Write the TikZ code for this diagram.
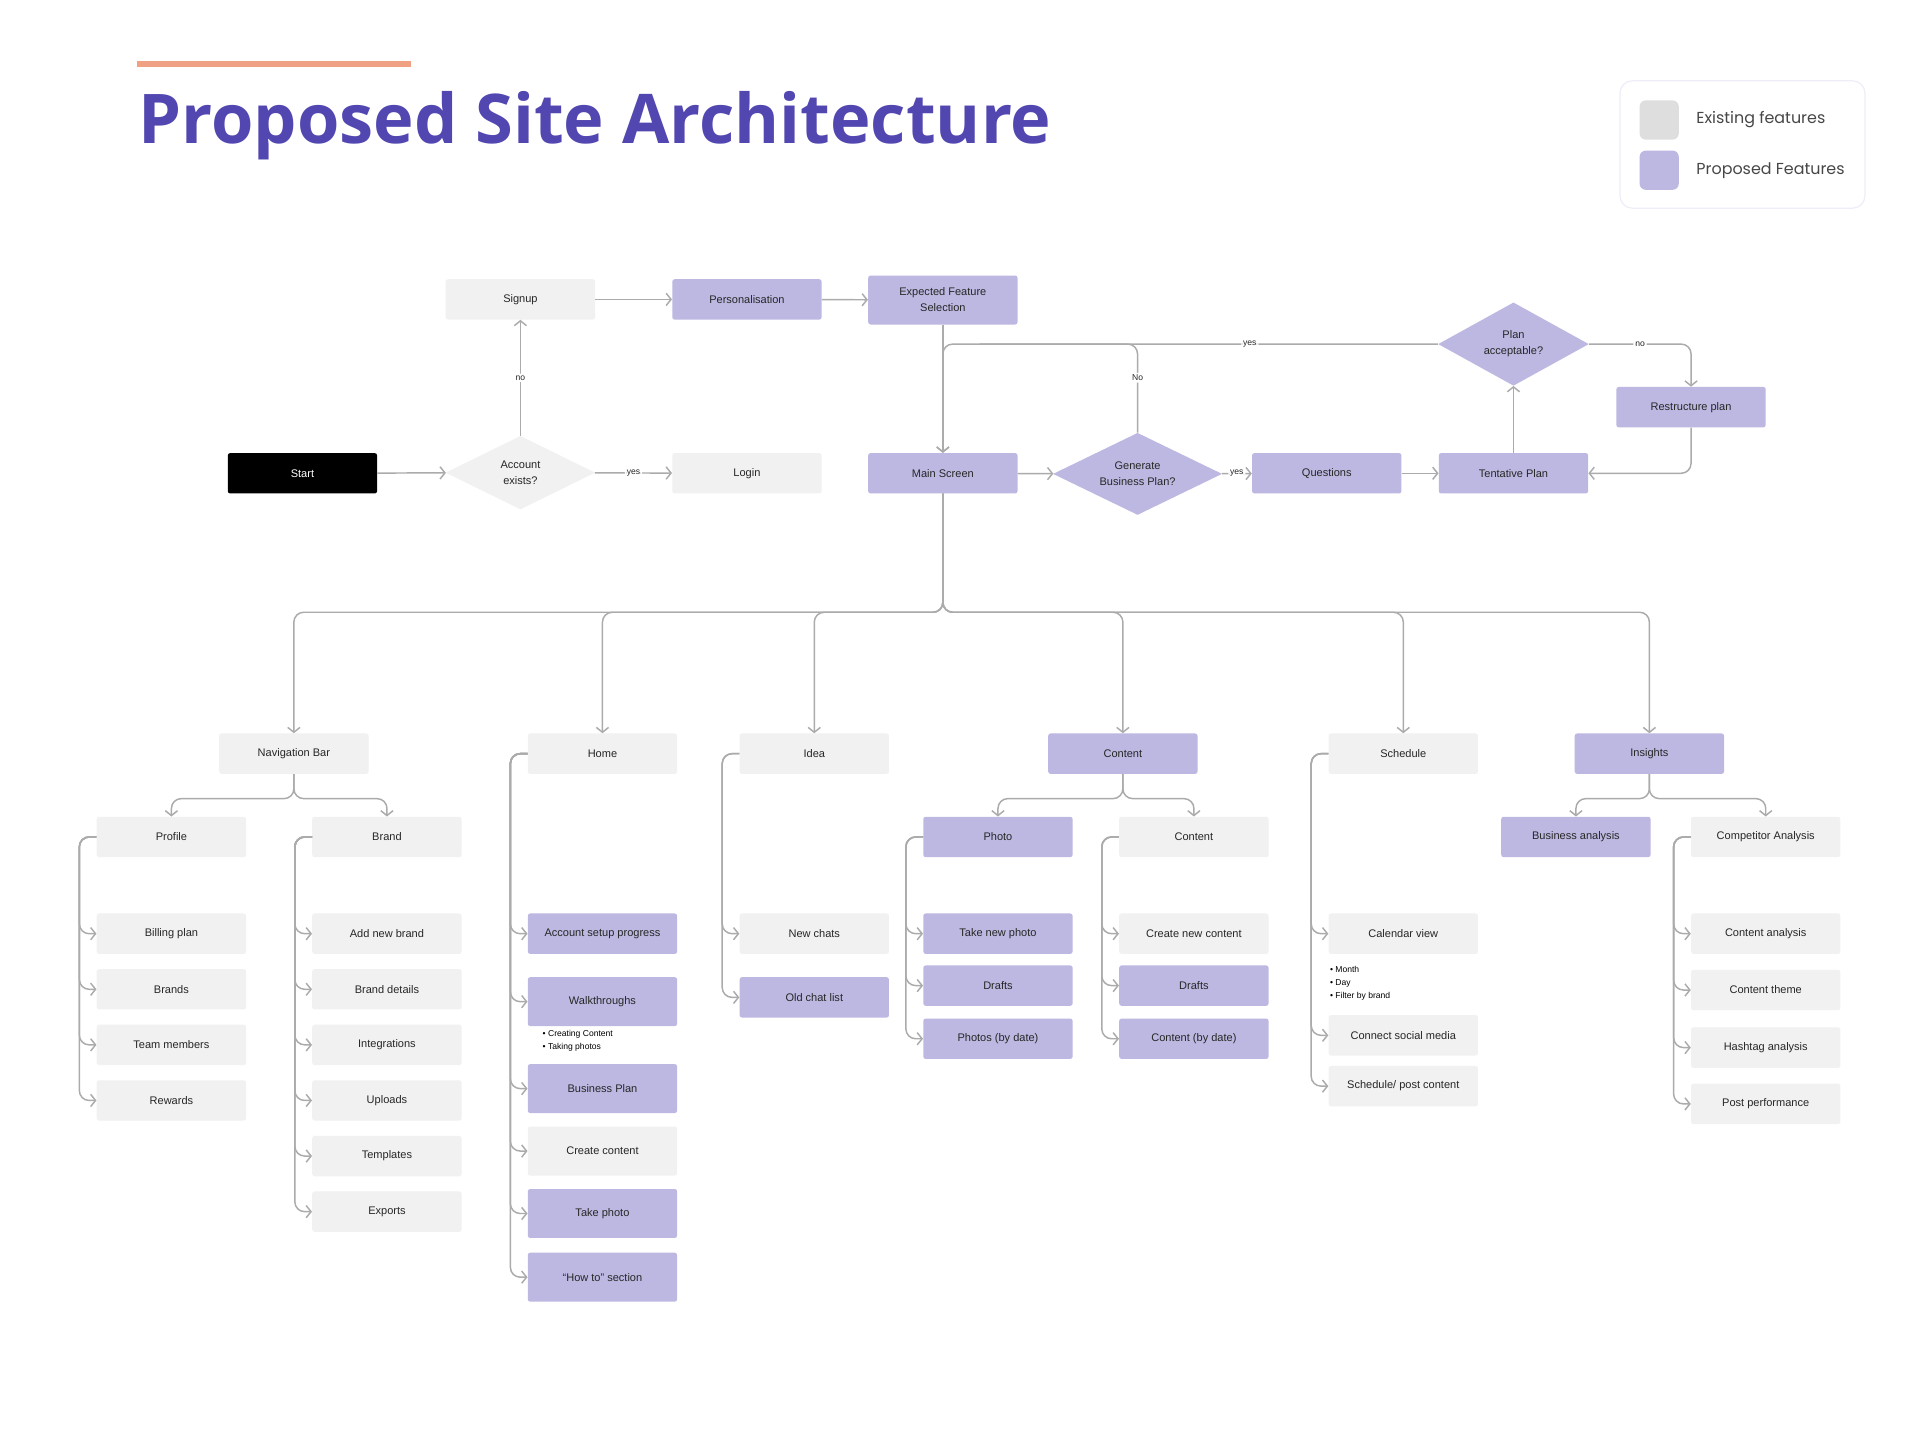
\documentclass[tikz,border=0pt]{standalone}
\usepackage{fontspec}
\setmainfont{Liberation Sans}
\newfontfamily\titlefont{Open Sans}
\newfontfamily\legendfont{Poppins}
\usepackage{xcolor}
\usetikzlibrary{positioning,arrows.meta,shapes.geometric}

\definecolor{oldgray}{HTML}{F1F1F1}
\definecolor{newpurple}{HTML}{BDB8E1}
\definecolor{linegray}{HTML}{ABABAB}
\definecolor{titleblue}{HTML}{5247B1}
\definecolor{accentbar}{HTML}{F0A184}
\definecolor{legendline}{HTML}{EFEDF8}
\definecolor{inkdark}{HTML}{262626}

\tikzset{
  box/.style={rectangle, rounded corners=2pt, minimum width=122pt, minimum height=33pt,
    inner sep=2pt, align=center, text=inkdark, font=\fontsize{9}{13}\selectfont},
  oldbox/.style={box, fill=oldgray},
  newbox/.style={box, fill=newpurple},
  tallbox/.style={minimum height=40pt},
  decide/.style={diamond, shape aspect=2, inner sep=0pt, align=center, text=inkdark, font=\fontsize{9}{13}\selectfont},
  link/.style={draw=linegray, line width=1.2pt, rounded corners=8pt,
    -{Straight Barb[length=4pt,width=10pt]}},
  tag/.style={fill=white, inner sep=1.5pt, text=inkdark, font=\fontsize{7}{8}\selectfont},
  bullets/.style={anchor=north west, inner sep=0pt, align=left, text=black, font=\fontsize{7}{10.5}\selectfont},
}

\begin{document}
\begin{tikzpicture}[x=1pt, y=-1pt]
\fill[white] (0,0) rectangle (1568,1179);
\useasboundingbox (0,0) rectangle (1568,1179);

% heading and legend
\fill[accentbar] (112,49.5) rectangle (336,54.5);
\node[anchor=base west, inner sep=0pt, text=titleblue, font=\titlefont\bfseries\fontsize{56}{60}\selectfont] (title) at (113,117) {Proposed Site Architecture};
\node[draw=legendline, line width=1pt, rounded corners=10pt, minimum width=200pt, minimum height=104pt] (legend) at (1423,118) {};
\node[fill=oldgray!92!black, rounded corners=5pt, minimum size=32pt] (swold) at (1355,98) {};
\node[fill=newpurple, rounded corners=5pt, minimum size=32pt] (swnew) at (1355,139) {};
\node[right=14pt of swold, inner sep=0pt, text=black!72, font=\legendfont\fontsize{13}{15}\selectfont] (lgold) {Existing features};
\node[right=14pt of swnew, inner sep=0pt, text=black!72, font=\legendfont\fontsize{13}{15}\selectfont] (lgnew) {Proposed Features};

% entry flow
\node[oldbox] (signup) at (425,244.5) {Signup};
\node[newbox] (persona) at (610,244.5) {Personalisation};
\node[newbox, tallbox] (expect) at (770,245) {Expected Feature\\Selection};
\node[box, fill=black, text=white] (start) at (247,386.5) {Start};
\node[decide, fill=oldgray, minimum width=122pt, minimum height=60pt] (account) at (425,386) {Account\\exists?};
\node[oldbox] (login) at (610,386.5) {Login};
\node[newbox] (mainscr) at (770,386.5) {Main Screen};
\node[decide, fill=newpurple, minimum width=138pt, minimum height=67pt] (genplan) at (929,387) {Generate\\Business Plan?};
\node[newbox] (questions) at (1083.5,386.5) {Questions};
\node[newbox] (tentative) at (1236,386.5) {Tentative Plan};
\node[decide, fill=newpurple, minimum width=123pt, minimum height=68pt] (planok) at (1236,281) {Plan\\acceptable?};
\node[newbox] (restructure) at (1381,332.5) {Restructure plan};
\coordinate (loopjoin) at (800,281);

\draw[link] (start) -- (account);
\draw[link] (account) -- node[tag] {yes} (login);
\draw[link] (account) -- node[tag] {no} (signup);
\draw[link] (signup) -- (persona);
\draw[link] (persona) -- (expect);
\draw[link] (expect) -- (mainscr);
\draw[link] (mainscr) -- (genplan);
\draw[link] (genplan) -- node[tag] {yes} (questions);
\draw[link] (questions) -- (tentative);
\draw[link] (tentative) -- (planok);
\draw[link] (planok.west) -| node[tag, pos=0.19] {yes} (mainscr.north);
\draw[draw=linegray, line width=1.2pt, rounded corners=8pt] (genplan.north) |- node[tag, pos=0.31] {No} (loopjoin);
\draw[link] (planok.east) -| node[tag, pos=0.25] {no} (restructure.north);
\draw[link] (restructure.south) |- (tentative.east);

% main sections
\node[oldbox] (navbar) at (240,615.5) {Navigation Bar};
\node[oldbox] (home) at (492,615.5) {Home};
\node[oldbox] (idea) at (665,615.5) {Idea};
\node[newbox] (content) at (917,615.5) {Content};
\node[oldbox] (schedule) at (1146,615.5) {Schedule};
\node[newbox] (insights) at (1347,615.5) {Insights};
\coordinate (bus) at (770,500);
\foreach \sec in {navbar,home,idea,content,schedule,insights}
  \draw[link] (mainscr.south) |- (bus -| \sec.north) -- (\sec.north);

% navigation bar
\node[oldbox] (profile) at (140,683.5) {Profile};
\node[oldbox] (brand) at (316,683.5) {Brand};
\foreach \sub in {profile,brand}
  \draw[link] (navbar.south) -- ++(0,20) -| (\sub.north);
\node[oldbox] (billing) at (140,762.5) {Billing plan};
\node[oldbox, below=12pt of billing] (brands) {Brands};
\node[oldbox, below=12pt of brands] (team) {Team members};
\node[oldbox, below=12pt of team] (rewards) {Rewards};
\foreach \kid in {billing,brands,team,rewards}
  \draw[link] (profile.west) -- ++(-14,0) |- (\kid.west);
\node[oldbox] (addbrand) at (316,762.5) {Add new brand};
\node[oldbox, below=12pt of addbrand] (branddet) {Brand details};
\node[oldbox, below=12pt of branddet] (integr) {Integrations};
\node[oldbox, below=12pt of integr] (uploads) {Uploads};
\node[oldbox, below=12pt of uploads] (templates) {Templates};
\node[oldbox, below=12pt of templates] (exports) {Exports};
\foreach \kid in {addbrand,branddet,integr,uploads,templates,exports}
  \draw[link] (brand.west) -- ++(-14,0) |- (\kid.west);

% home
\node[newbox] (acctsetup) at (492,762.5) {Account setup progress};
\node[newbox, tallbox] (walk) at (492,818) {Walkthroughs};
\node[bullets] (walknote) at (443,841.5) {\textbullet\ Creating Content\\\textbullet\ Taking photos};
\node[newbox, tallbox] (bizplan) at (492,889) {Business Plan};
\node[oldbox, tallbox] (createc) at (492,940) {Create content};
\node[newbox, tallbox] (takephoto) at (492,991) {Take photo};
\node[newbox, tallbox] (howto) at (492,1043) {``How to'' section};
\foreach \kid in {acctsetup,walk,bizplan,createc,takephoto,howto}
  \draw[link] (home.west) -- ++(-14,0) |- (\kid.west);

% idea
\node[oldbox] (newchats) at (665,762.5) {New chats};
\node[newbox] (oldchat) at (665,814.5) {Old chat list};
\foreach \kid in {newchats,oldchat}
  \draw[link] (idea.west) -- ++(-14,0) |- (\kid.west);

% content
\node[newbox] (photo) at (815,683.5) {Photo};
\node[oldbox] (contsub) at (975,683.5) {Content};
\foreach \sub in {photo,contsub}
  \draw[link] (content.south) -- ++(0,20) -| (\sub.north);
\node[newbox] (takenew) at (815,762.5) {Take new photo};
\node[newbox, below=9pt of takenew] (photodrafts) {Drafts};
\node[newbox, below=10pt of photodrafts] (photosdate) {Photos (by date)};
\foreach \kid in {takenew,photodrafts,photosdate}
  \draw[link] (photo.west) -- ++(-14,0) |- (\kid.west);
\node[oldbox] (createnew) at (975,762.5) {Create new content};
\node[newbox, below=9pt of createnew] (contdrafts) {Drafts};
\node[newbox, below=10pt of contdrafts] (contdate) {Content (by date)};
\foreach \kid in {createnew,contdrafts,contdate}
  \draw[link] (contsub.west) -- ++(-14,0) |- (\kid.west);

% schedule
\node[oldbox] (calview) at (1146,762.5) {Calendar view};
\node[bullets] (calnote) at (1086,789) {\textbullet\ Month\\\textbullet\ Day\\\textbullet\ Filter by brand};
\node[oldbox] (social) at (1146,845.5) {Connect social media};
\node[oldbox] (postc) at (1146,887) {Schedule/ post content};
\foreach \kid in {calview,social,postc}
  \draw[link] (schedule.west) -- ++(-14,0) |- (\kid.west);

% insights
\node[newbox] (bizanal) at (1287,683.5) {Business analysis};
\node[oldbox] (competitor) at (1442,683.5) {Competitor Analysis};
\foreach \sub in {bizanal,competitor}
  \draw[link] (insights.south) -- ++(0,20) -| (\sub.north);
\node[oldbox] (contanal) at (1442,762.5) {Content analysis};
\node[oldbox] (theme) at (1442,808.5) {Content theme};
\node[oldbox] (hashtag) at (1442,855.5) {Hashtag analysis};
\node[oldbox] (postperf) at (1442,901.5) {Post performance};
\foreach \kid in {contanal,theme,hashtag,postperf}
  \draw[link] (competitor.west) -- ++(-14,0) |- (\kid.west);
\end{tikzpicture}
\end{document}
